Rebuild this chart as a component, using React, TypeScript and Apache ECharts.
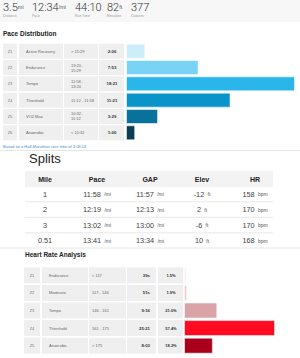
import React, { useEffect, useRef } from 'react';
import * as echarts from 'echarts';

// ---- data ----
const statValues = ['3.5', '12:34', '44:10', '82', '377'];
const statUnits = ['mi', '/mi', '', 'ft', ''];
const statLabels = ['Distance', 'Pace', 'Run Time', 'Elevation', 'Calories'];

const paceTitle = 'Pace Distribution';
const paceZones = ['Z1', 'Z2', 'Z3', 'Z4', 'Z5', 'Z6'];
const paceNames = ['Active Recovery', 'Endurance', 'Tempo', 'Threshold', 'VO2 Max', 'Anaerobic'];
const paceRanges = ['> 15:29', '13:20 -\n15:29', '11:58 -\n13:20', '11:12 - 11:58', '10:32 -\n11:12', '< 10:32'];
const paceTimes = ['2:06', '7:53', '18:21', '11:21', '3:29', '1:00'];
const paceSeconds = [126, 473, 1101, 681, 209, 60];
const paceFootnote = 'Based on a Half-Marathon race time of 3:03:03';

const splitsTitle = 'Splits';
const splitHeaders = ['Mile', 'Pace', 'GAP', 'Elev', 'HR'];
const splitMiles = ['1', '2', '3', '0.51'];
const splitPace = ['11:58', '12:19', '13:02', '13:41'];
const splitGap = ['11:57', '12:13', '13:00', '13:34'];
const splitElev = [-12, 2, -6, 10];
const splitHr = [158, 170, 170, 168];

const hrTitle = 'Heart Rate Analysis';
const hrZones = ['Z1', 'Z2', 'Z3', 'Z4', 'Z5'];
const hrNames = ['Endurance', 'Moderate', 'Tempo', 'Threshold', 'Anaerobic'];
const hrRanges = ['< 117', '117 - 146', '146 - 161', '161 - 175', '> 175'];
const hrTimes = ['39s', '51s', '9:16', '25:21', '8:03'];
const hrPercent = [1.5, 1.9, 21.0, 57.4, 18.2];

// ---- styles ----
const paceColors = ['#cdedfb', '#79d3f5', '#2bb6ea', '#0b94c9', '#08729d', '#0b3d53'];
const hrColors = ['#f5e3e5', '#efc6cb', '#d9a3a8', '#ff0a23', '#a9001c'];
const FONT = '"Liberation Sans", Arial, Helvetica, sans-serif';

const PACE_TOP = 43;
const PACE_PITCH = 16.33;
const HR_TOP = 266.5;
const HR_PITCH = 17.6;

function txt(x: number, y: number, text: string, o: any = {}) {
  return {
    type: 'text',
    x,
    y,
    silent: true,
    style: {
      text,
      fontFamily: FONT,
      fontSize: 4,
      fill: '#666',
      align: 'left',
      verticalAlign: 'middle',
      ...o,
    },
  };
}
function rect(x: number, y: number, w: number, h: number, fill: string) {
  return { type: 'rect', silent: true, shape: { x, y, width: w, height: h }, style: { fill } };
}
function hline(x1: number, x2: number, y: number, stroke: string) {
  return { type: 'line', silent: true, shape: { x1, y1: y, x2, y2: y }, style: { stroke, lineWidth: 1 } };
}

export default function App() {
  const ref = useRef<HTMLDivElement>(null);
  useEffect(() => {
    document.body.style.margin = '0';
    if (!ref.current) return;
    const chart = echarts.init(ref.current, undefined, { renderer: 'svg' });
    const g: any[] = [];

    // top stat band
    g.push(rect(0, 0, 300, 22, '#f7f7f7'));
    const statX = [3, 32, 75, 107, 131];
    statValues.forEach((v, i) => {
      g.push({
        type: 'text',
        x: statX[i],
        y: 7,
        silent: true,
        style: {
          text: `{v|${v}}{u|${statUnits[i]}}`,
          align: 'left',
          verticalAlign: 'middle',
          rich: {
            v: { fontFamily: 'Roboto, ' + FONT, fontWeight: 300, fontSize: 11, fill: '#333' },
            u: { fontFamily: FONT, fontSize: 5.5, fill: '#555' },
          },
        },
      });
      g.push(txt(statX[i], 15.5, statLabels[i], { fontSize: 3.5, fill: '#999' }));
    });

    // pace distribution
    g.push(txt(3, 33, paceTitle, { fontSize: 6.5, fontWeight: 'bold', fill: '#222' }));
    const paceCols = [[3, 14], [19, 44], [64, 34], [99, 25]];
    paceZones.forEach((z, i) => {
      const top = PACE_TOP + PACE_PITCH * i + 0.67;
      const cy = top + 7.5;
      paceCols.forEach(([x, w]) => g.push(rect(x, top, w, 15, '#efefef')));
      g.push(txt(10, cy, z, { align: 'center', fill: '#777' }));
      g.push(txt(26, cy, paceNames[i], { fill: '#666' }));
      g.push(txt(71, cy, paceRanges[i], { fill: '#666', lineHeight: 5 }));
      g.push(txt(112, cy, paceTimes[i], { align: 'center', fontWeight: 'bold', fill: '#333', fontSize: 4.3 }));
    });
    g.push(txt(3, 146, paceFootnote, { fill: '#3d8fd1', fontSize: 4 }));
    g.push(hline(0, 300, 150.5, '#e6e6e6'));

    // splits
    g.push(txt(29, 158, splitsTitle, { fontSize: 13, fill: '#222' }));
    g.push(rect(25, 171, 248, 16, '#f3f3f3'));
    const splitX = [45, 97, 150, 202, 255];
    splitHeaders.forEach((h, i) =>
      g.push(txt(splitX[i], 179, h, { align: 'center', fontSize: 7, fontWeight: 'bold', fill: '#222' }))
    );
    const rich = {
      n: { fontFamily: FONT, fontSize: 7.3, fill: '#444' },
      u: { fontFamily: FONT, fontSize: 5, fill: '#555' },
    };
    splitMiles.forEach((m, i) => {
      const cy = 194 + 15.5 * i;
      const cells = [
        `{n|${m}}`,
        `{n|${splitPace[i]}} {u|/mi}`,
        `{n|${splitGap[i]}} {u|/mi}`,
        `{n|${splitElev[i]}} {u|ft}`,
        `{n|${splitHr[i]}} {u|bpm}`,
      ];
      cells.forEach((c, j) =>
        g.push({
          type: 'text',
          x: splitX[j],
          y: cy,
          silent: true,
          style: { text: c, align: 'center', verticalAlign: 'middle', rich },
        })
      );
      if (i < splitMiles.length - 1) g.push(hline(25, 273, cy + 7.8, '#e8e8e8'));
    });
    g.push(hline(0, 300, 248, '#e6e6e6'));

    // heart rate analysis
    g.push(txt(25, 254, hrTitle, { fontSize: 6.5, fontWeight: 'bold', fill: '#222' }));
    const hrCols = [[24, 16], [42, 46], [89, 37], [127, 29], [158, 25]];
    hrZones.forEach((z, i) => {
      const top = HR_TOP + HR_PITCH * i + 0.8;
      const cy = top + 8;
      hrCols.forEach(([x, w]) => g.push(rect(x, top, w, 16, '#efefef')));
      g.push(txt(32, cy, z, { align: 'center', fill: '#777' }));
      g.push(txt(49, cy, hrNames[i], { fill: '#666' }));
      g.push(txt(92, cy, hrRanges[i], { fill: '#666' }));
      g.push(txt(150, cy, hrTimes[i], { align: 'right', fontWeight: 'bold', fill: '#333', fontSize: 4.3 }));
      g.push(txt(171, cy, hrPercent[i].toFixed(1) + '%', { align: 'center', fontWeight: 'bold', fill: '#333', fontSize: 4 }));
    });

    const hideAxis = { show: false };
    chart.setOption({
      animation: false,
      grid: [
        { left: 126, right: 5, top: PACE_TOP, height: PACE_PITCH * 6 },
        { left: 184, right: 25, top: HR_TOP, height: HR_PITCH * 5 },
      ],
      xAxis: [
        { type: 'value', gridIndex: 0, min: 0, max: 'dataMax', ...hideAxis },
        { type: 'value', gridIndex: 1, min: 0, max: 'dataMax', ...hideAxis },
      ],
      yAxis: [
        { type: 'category', gridIndex: 0, inverse: true, data: paceZones, ...hideAxis },
        { type: 'category', gridIndex: 1, inverse: true, data: hrZones, ...hideAxis },
      ],
      series: [
        {
          type: 'bar',
          xAxisIndex: 0,
          yAxisIndex: 0,
          barWidth: 15,
          data: paceSeconds.map((v, i) => ({
            value: v,
            itemStyle: { color: paceColors[i], borderColor: 'rgba(255,255,255,0.55)', borderWidth: 1 },
          })),
          silent: true,
        },
        {
          type: 'bar',
          xAxisIndex: 1,
          yAxisIndex: 1,
          barWidth: 16,
          data: hrPercent.map((v, i) => ({
            value: v,
            itemStyle: { color: hrColors[i], borderColor: 'rgba(255,255,255,0.55)', borderWidth: 1 },
          })),
          silent: true,
        },
      ],
      graphic: g,
    });
    return () => chart.dispose();
  }, []);
  return <div ref={ref} style={{ width: 300, height: 358 }} />;
}
